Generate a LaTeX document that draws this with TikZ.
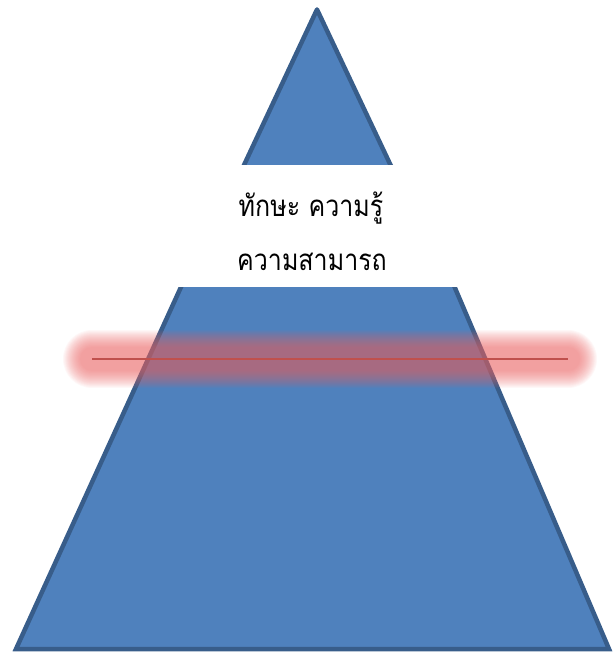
\documentclass[tikz,border=0pt]{standalone}
\usepackage{fontspec}
\usepackage{graphicx}
\newfontfamily\thaifont[Script=Thai]{Loma}
\definecolor{pyrfill}{RGB}{79,129,189}
\definecolor{pyrline}{RGB}{56,93,138}
\definecolor{glowred}{RGB}{234,100,100}
\definecolor{redline}{RGB}{192,80,77}
\tikzset{
  pyrshape/.style={fill=pyrfill, draw=pyrline, line width=4.5pt},
  glowpass/.style={draw=glowred, line cap=round, opacity=0.05},
  thaitext/.style={anchor=base, inner sep=0pt, font=\thaifont\fontsize{25}{30}\selectfont}
}
\newcommand{\thaistretch}[1]{\scalebox{1}[1.18]{#1}}
\begin{document}
\begin{tikzpicture}[x=1pt,y=-1pt]
\useasboundingbox (0,0) rectangle (613,652);
% top triangle
\begin{scope}
  \clip (0,0) rectangle (613,165);
  \draw[pyrshape, line join=round] (317,9.5) -- (397.6,180) -- (237,180) -- cycle;
\end{scope}
% bottom trapezoid
\begin{scope}
  \clip (0,287) rectangle (613,652);
  \draw[pyrshape, line join=miter] (184.2,280) -- (451.6,280) -- (609,649) -- (16,649) -- cycle;
\end{scope}
% glow
\coordinate (gl) at (92,359);
\coordinate (gr) at (568,359);
\foreach \w in {58,56,...,24} {
  \draw[glowpass, line width=\w pt] (gl) -- (gr);
}
\draw[redline, line width=1.5pt] (gl) -- (gr);
% text
\node[thaitext] (t1) at (311,216.7) {\thaistretch{ทักษะ ความรู้}};
\node[thaitext] (t2) at (312,270.7) {\thaistretch{ความสามารถ}};
\end{tikzpicture}
\end{document}
